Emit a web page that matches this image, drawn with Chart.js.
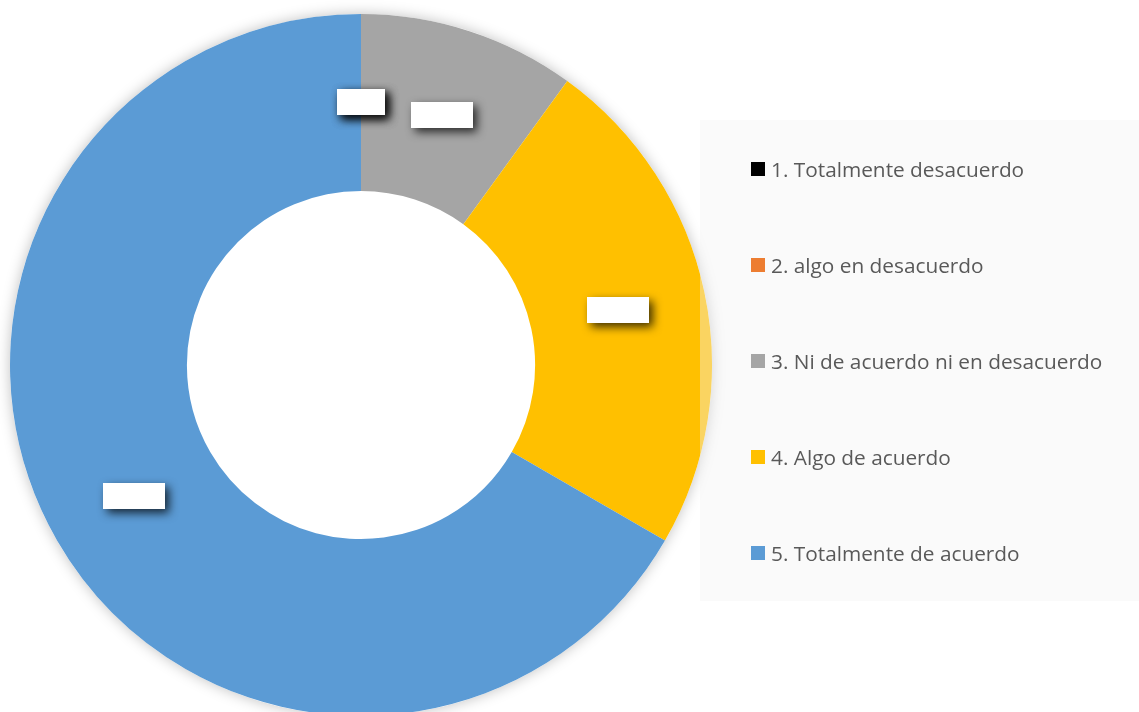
<!DOCTYPE html>
<html>
<head>
<meta charset="utf-8">
<script src="https://cdn.jsdelivr.net/npm/chart.js@4.4.0/dist/chart.umd.min.js"></script>
<style>
  html, body { margin: 0; padding: 0; background: #fff; overflow: hidden; }
  body { width: 1139px; height: 712px; position: relative; }
  #myChart { position: absolute; left: -10px; top: -6px; }
  #legend {
    position: absolute; left: 700px; top: 120px; width: 439px; height: 481px;
    background: rgba(242, 242, 242, 0.4);
    font-family: "Open Sans", "Noto Sans", sans-serif; font-size: 20.8px; color: #595959;
  }
  .item { position: absolute; left: 51px; height: 24px; display: flex; align-items: center; white-space: nowrap; }
  .box { width: 14px; height: 14px; margin-right: 6px; flex: none; }
</style>
</head>
<body>
<canvas id="myChart" width="742" height="742"></canvas>
<div id="legend"></div>
<script>
// answers (out of 30)
const labels = [
    "1. Totalmente desacuerdo",
    "2. algo en desacuerdo",
    "3. Ni de acuerdo ni en desacuerdo",
    "4. Algo de acuerdo",
    "5. Totalmente de acuerdo"
];
const counts = [0, 0, 3, 7, 20];
const colors = ["#000000", "#ED7D31", "#A5A5A5", "#FFC000", "#5B9BD5"];

// legend on the right, laid over the chart
const legend = document.getElementById("legend");
legend.innerHTML = labels.map(function (name, i) {
    return `<div class="item" style="top:${37 + i * 96}px"><span class="box" style="background:${colors[i]}"></span>${name}</div>`;
}).join("");

// soft glow round the outside of the ring
const ringShadow = {
    id: "ringShadow",
    beforeDatasetsDraw(chart) {
        const arc = chart.getDatasetMeta(0).data[0];
        const ctx = chart.ctx;
        ctx.save();
        ctx.beginPath();
        ctx.rect(0, 0, chart.width, chart.height);
        ctx.arc(arc.x, arc.y, arc.outerRadius, 0, Math.PI * 2);
        ctx.clip("evenodd");
        ctx.beginPath();
        ctx.arc(arc.x, arc.y, arc.outerRadius, 0, Math.PI * 2);
        ctx.shadowColor = "rgba(0,0,0,0.25)";
        ctx.shadowBlur = 14;
        ctx.fillStyle = "#ffffff";
        ctx.fill();
        ctx.restore();
    }
};

// empty white label boxes with a drop shadow
const labelBoxes = {
    id: "labelBoxes",
    afterDatasetsDraw(chart) {
        const ctx = chart.ctx;
        chart.getDatasetMeta(0).data.forEach(function (arc, i) {
            const p = arc.tooltipPosition();
            const w = counts[i] === 0 ? 48 : 62;
            const h = 26;
            ctx.save();
            ctx.shadowColor = "rgba(0,0,0,0.75)";
            ctx.shadowBlur = 10;
            ctx.shadowOffsetX = 4;
            ctx.shadowOffsetY = 4;
            ctx.fillStyle = "#ffffff";
            ctx.fillRect(Math.round(p.x - w / 2), Math.round(p.y - h / 2), w, h);
            ctx.restore();
        });
    }
};

const myChart = new Chart(document.getElementById("myChart"), {
    type: "doughnut",
    data: {
        labels: labels,
        datasets: [{
            data: counts,
            backgroundColor: colors,
            borderWidth: 0
        }]
    },
    options: {
        responsive: false,
        animation: false,
        devicePixelRatio: 1,
        cutout: "49.6%",
        layout: { padding: 20 },
        plugins: {
            legend: { display: false },
            tooltip: { enabled: false }
        }
    },
    plugins: [ringShadow, labelBoxes]
});
</script>
</body>
</html>
